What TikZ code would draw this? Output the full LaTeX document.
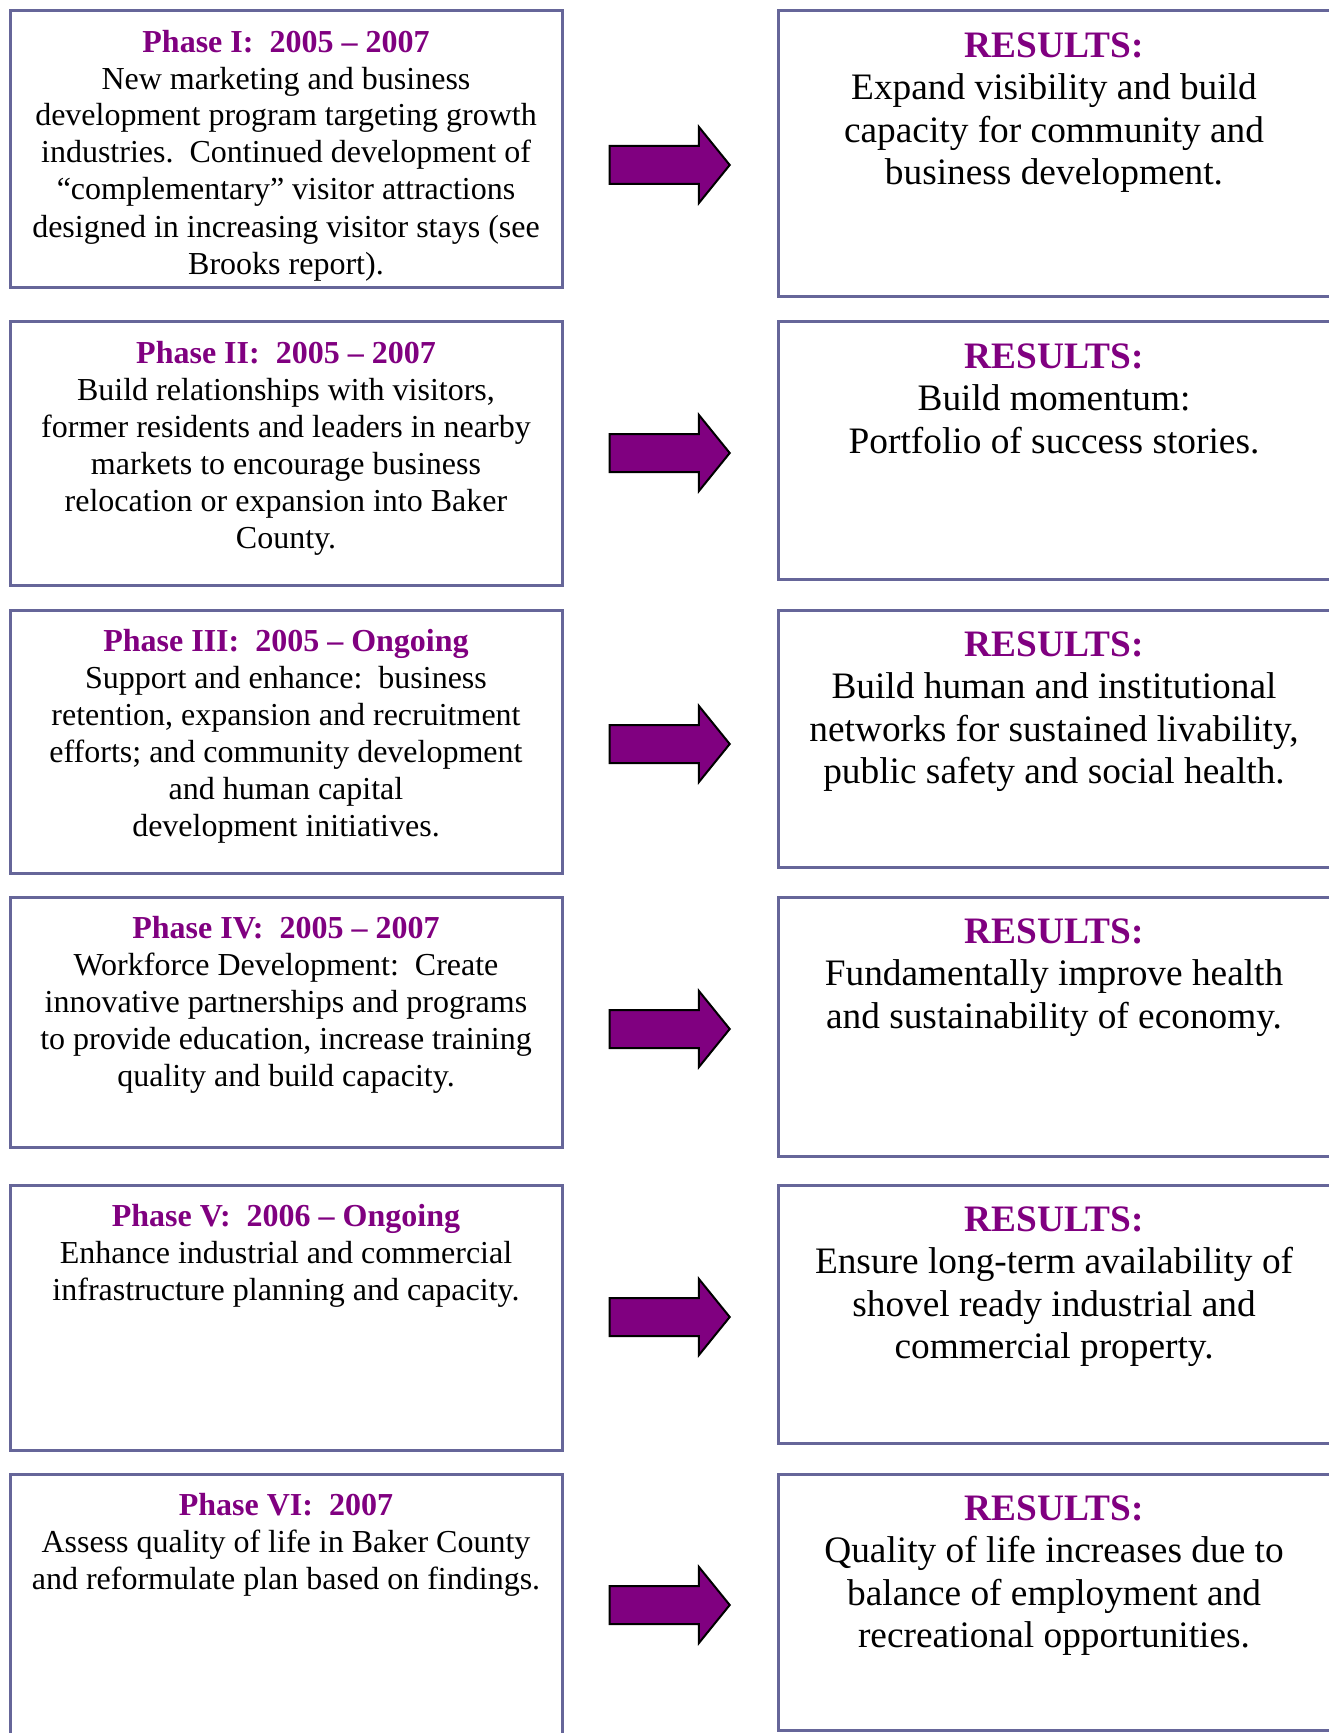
\documentclass[tikz,border=0pt]{standalone}
\usepackage{fontspec}
\setmainfont{Liberation Serif}
\usepackage{xcolor}
\usepackage{tikz}
\usetikzlibrary{shapes,arrows,positioning}

\definecolor{phasepurple}{HTML}{800080}
\definecolor{boxline}{HTML}{666699}

\newcommand{\phasetitle}[1]{\textcolor{phasepurple}{\bfseries #1}}

\begin{document}
\begin{tikzpicture}[x=0.5pt,y=-0.5pt,
    phasebox/.style={draw=boxline, line width=1.5pt, minimum width=276pt, inner sep=0pt, outer sep=0pt, anchor=north},
    phasetext/.style={align=center, inner sep=0pt, font=\fontsize{16}{18.5}\selectfont},
    resulttext/.style={align=center, inner sep=0pt, font=\fontsize{18.67}{21.25}\selectfont},
    bigarrow/.style={single arrow, draw=black, line width=1pt, fill=phasepurple, minimum height=60pt, minimum width=37pt, single arrow head extend=9.5pt, single arrow tip angle=102, inner xsep=0pt, inner ysep=9pt, anchor=tip}]
    \useasboundingbox (0,0) rectangle (1328,1733);

    % Phase I
    \node[phasebox, minimum height=138.5pt] (phaseI) at (286,11) {};
    \node[phasetext, below=9.2pt of phaseI.north] (phaseItext) {\phasetitle{Phase I:\ \ 2005 – 2007}\\
        New marketing and business\\ development program targeting growth\\ industries.\ \ Continued development of\\
        “complementary” visitor attractions\\ designed in increasing visitor stays (see\\ Brooks report).};
    \node[bigarrow] (arrowI) at (731,165) {};
    \node[phasebox, minimum height=143pt] (resultI) at (1054,11) {};
    \node[resulttext, below=10.6pt of resultI.north] (resultItext) {\phasetitle{RESULTS:}\\
        Expand visibility and build\\ capacity for community and\\ business development.};

    % Phase II
    \node[phasebox, minimum height=131.5pt] (phaseII) at (286,322) {};
    \node[phasetext, below=9.2pt of phaseII.north] (phaseIItext) {\phasetitle{Phase II:\ \ 2005 – 2007}\\
        Build relationships with visitors,\\ former residents and leaders in nearby\\ markets to encourage business\\
        relocation or expansion into Baker\\ County.};
    \node[bigarrow] (arrowII) at (731,453) {};
    \node[phasebox, minimum height=128.5pt] (resultII) at (1054,322) {};
    \node[resulttext, below=10.6pt of resultII.north] (resultIItext) {\phasetitle{RESULTS:}\\
        Build momentum:\\ Portfolio of success stories.};

    % Phase III
    \node[phasebox, minimum height=131.5pt] (phaseIII) at (286,610) {};
    \node[phasetext, below=9.2pt of phaseIII.north] (phaseIIItext) {\phasetitle{Phase III:\ \ 2005 – Ongoing}\\
        Support and enhance:\ \ business\\ retention, expansion and recruitment\\ efforts; and community development\\
        and human capital\\ development initiatives.};
    \node[bigarrow] (arrowIII) at (731,744) {};
    \node[phasebox, minimum height=128.5pt] (resultIII) at (1054,610) {};
    \node[resulttext, below=10.6pt of resultIII.north] (resultIIItext) {\phasetitle{RESULTS:}\\
        Build human and institutional\\ networks for sustained livability,\\ public safety and social health.};

    % Phase IV
    \node[phasebox, minimum height=125pt] (phaseIV) at (286,897) {};
    \node[phasetext, below=9.2pt of phaseIV.north] (phaseIVtext) {\phasetitle{Phase IV:\ \ 2005 – 2007}\\
        Workforce Development:\ \ Create\\ innovative partnerships and programs\\ to provide education, increase training\\
        quality and build capacity.};
    \node[bigarrow] (arrowIV) at (731,1029) {};
    \node[phasebox, minimum height=129.5pt] (resultIV) at (1054,897) {};
    \node[resulttext, below=10.6pt of resultIV.north] (resultIVtext) {\phasetitle{RESULTS:}\\
        Fundamentally improve health\\ and sustainability of economy.};

    % Phase V
    \node[phasebox, minimum height=132.5pt] (phaseV) at (286,1185) {};
    \node[phasetext, below=9.2pt of phaseV.north] (phaseVtext) {\phasetitle{Phase V:\ \ 2006 – Ongoing}\\
        Enhance industrial and commercial\\ infrastructure planning and capacity.};
    \node[bigarrow] (arrowV) at (731,1317) {};
    \node[phasebox, minimum height=129pt] (resultV) at (1054,1185) {};
    \node[resulttext, below=10.6pt of resultV.north] (resultVtext) {\phasetitle{RESULTS:}\\
        Ensure long-term availability of\\ shovel ready industrial and\\ commercial property.};

    % Phase VI
    \node[phasebox, minimum height=140pt] (phaseVI) at (286,1474) {};
    \node[phasetext, below=9.2pt of phaseVI.north] (phaseVItext) {\phasetitle{Phase VI:\ \ 2007}\\
        Assess quality of life in Baker County\\ and reformulate plan based on findings.};
    \node[bigarrow] (arrowVI) at (731,1605) {};
    \node[phasebox, minimum height=128pt] (resultVI) at (1054,1474) {};
    \node[resulttext, below=10.6pt of resultVI.north] (resultVItext) {\phasetitle{RESULTS:}\\
        Quality of life increases due to\\ balance of employment and\\ recreational opportunities.};
\end{tikzpicture}
\end{document}
